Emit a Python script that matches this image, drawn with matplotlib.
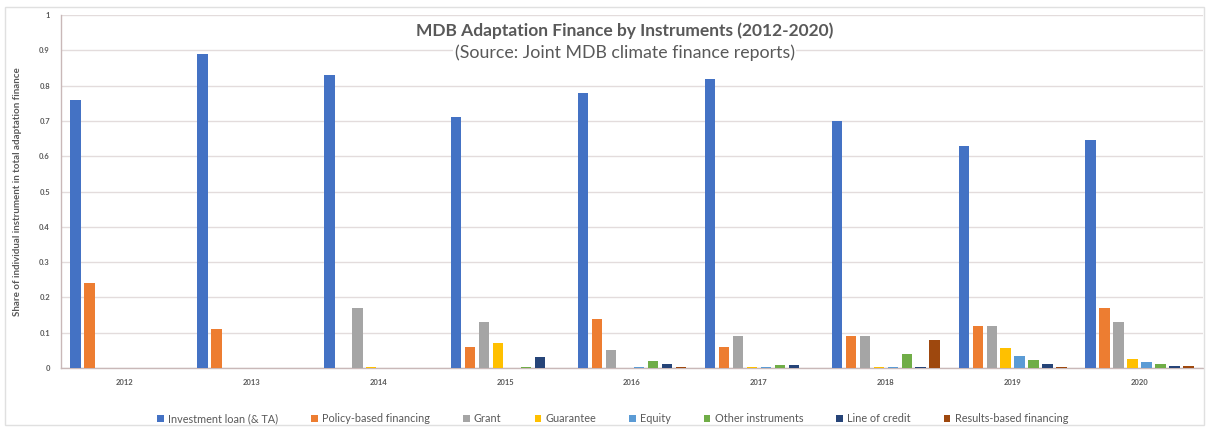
import numpy as np
import matplotlib
matplotlib.use("Agg")
import matplotlib.pyplot as plt
from matplotlib.patches import Rectangle

plt.rcParams['font.family'] = ['Lato', 'DejaVu Sans']

# Data
years = ['2012', '2013', '2014', '2015', '2016', '2017', '2018', '2019', '2020']
instruments = ['Investment loan (& TA)', 'Policy-based financing', 'Grant', 'Guarantee',
               'Equity', 'Other instruments', 'Line of credit', 'Results-based financing']
investment_loan = [0.76, 0.89, 0.83, 0.71, 0.78, 0.82, 0.70, 0.63, 0.645]
policy_based = [0.24, 0.11, 0.0, 0.06, 0.14, 0.06, 0.09, 0.12, 0.17]
grant = [0.0, 0.0, 0.17, 0.13, 0.05, 0.09, 0.09, 0.12, 0.13]
guarantee = [0.0, 0.0, 0.003, 0.07, 0.0, 0.002, 0.002, 0.057, 0.025]
equity = [0.0, 0.0, 0.0, 0.0, 0.003, 0.002, 0.003, 0.033, 0.017]
other = [0.0, 0.0, 0.0, 0.003, 0.02, 0.008, 0.04, 0.022, 0.012]
line_of_credit = [0.0, 0.0, 0.0, 0.03, 0.01, 0.008, 0.003, 0.01, 0.005]
results_based = [0.0, 0.0, 0.0, 0.0, 0.002, 0.0, 0.08, 0.003, 0.005]

series = [investment_loan, policy_based, grant, guarantee, equity, other,
          line_of_credit, results_based]
colors = ['#4472C4', '#ED7D31', '#A5A5A5', '#FFC000', '#5B9BD5', '#70AD47',
          '#264478', '#9E480E']

fig = plt.figure(figsize=(12.06, 4.30), dpi=100)
ax = fig.add_axes([0.0506, 0.1442, 0.9469, 0.8209])

x = np.arange(len(years))
step = 0.11
width = 0.082
for i, (vals, col, name) in enumerate(zip(series, colors, instruments)):
    ax.bar(x + (i - 3.5) * step, vals, width=width, color=col, label=name, zorder=3)

ax.set_xlim(-0.5, len(years) - 0.5)
ax.set_ylim(0, 1)
ax.set_yticks(np.arange(0, 1.01, 0.1))
ax.set_yticklabels(['0', '0.1', '0.2', '0.3', '0.4', '0.5', '0.6', '0.7', '0.8', '0.9', '1'],
                   fontsize=5.5, color='#595959', fontweight='bold')
ax.set_xticks(x)
ax.set_xticklabels(years, fontsize=5.5, color='#595959', fontweight='bold')
ax.tick_params(length=0, pad=8)
ax.grid(axis='y', color='#E3DCDC', linewidth=1.0, zorder=0)

for s in ['top', 'right']:
    ax.spines[s].set_visible(False)
for s in ['left', 'bottom']:
    ax.spines[s].set_color('#C9B8B8')
    ax.spines[s].set_linewidth(1.0)

ax.set_ylabel('Share of individual instrument in total adaptation finance',
              fontsize=7, fontweight='bold', color='#595959', labelpad=12)

fig.text(0.518, 0.928, 'MDB Adaptation Finance by Instruments (2012-2020)',
         ha='center', va='center', fontsize=12.5, fontweight='bold', color='#595959',
         bbox=dict(facecolor='white', edgecolor='none', pad=1))
fig.text(0.518, 0.877, '(Source: Joint MDB climate finance reports)',
         ha='center', va='center', fontsize=12.8, color='#595959',
         bbox=dict(facecolor='white', edgecolor='none', pad=1))

fig.legend(loc='center', bbox_to_anchor=(0.508, 0.026), ncol=8, frameon=False,
           fontsize=7.8, handlelength=0.6, handleheight=0.6, handletextpad=0.4,
           columnspacing=3.05, labelcolor='#595959')

fig.patches.append(Rectangle((0.004, 0.012), 0.994, 0.972, transform=fig.transFigure,
                             fill=False, edgecolor='#E0E0E0', linewidth=1.0))

fig.savefig('out.png', dpi=100)
